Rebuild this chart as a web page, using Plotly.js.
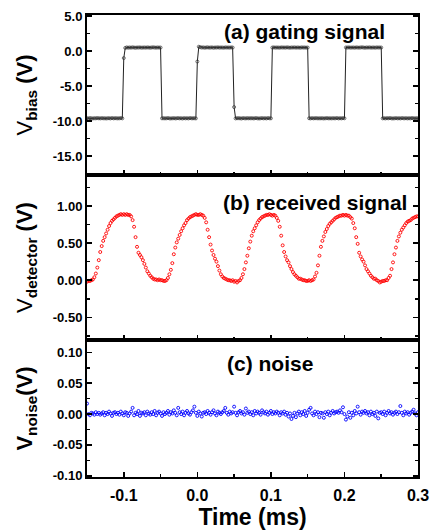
<!DOCTYPE html>
<html>
<head>
<meta charset="utf-8">
<script src="https://cdn.plot.ly/plotly-3.0.1.min.js"></script>
<style>
html,body{margin:0;padding:0;background:#fff;}
#chart{width:432px;height:531px;}
</style>
</head>
<body>
<div id="chart"></div>
<script>
// Sampling of the oscilloscope traces (ms)
const timeStart = -0.15;
const timeStep = 0.002;

// (a) gating signal, V_bias (V)
const gatingSignal = [
-9.60,-9.62,-9.58,-9.60,-9.63,-9.59,-9.61,-9.57,-9.60,-9.62,
-9.58,-9.61,-9.60,-9.63,-9.59,-9.60,-9.62,-9.58,-9.61,-9.60,
-9.59,-9.62,-9.60,-9.58,-9.61,-1.00,0.45,0.52,0.48,0.51,
0.49,0.53,0.50,0.47,0.51,0.50,0.52,0.48,0.50,0.51,
0.49,0.52,0.50,0.48,0.51,0.53,0.50,0.49,0.51,0.50,
0.50,-9.61,-9.59,-9.62,-9.60,-9.58,-9.61,-9.63,-9.60,-9.59,
-9.62,-9.60,-9.58,-9.61,-9.60,-9.63,-9.59,-9.61,-9.60,-9.62,
-9.58,-9.60,-9.61,-9.59,-9.62,-1.50,0.62,0.55,0.50,0.52,
0.48,0.51,0.53,0.49,0.50,0.52,0.47,0.51,0.50,0.53,
0.49,0.51,0.50,0.48,0.52,0.50,0.51,0.49,0.52,0.50,
-8.00,-9.62,-9.60,-9.58,-9.61,-9.63,-9.59,-9.60,-9.62,-9.58,
-9.61,-9.60,-9.59,-9.62,-9.60,-9.58,-9.61,-9.63,-9.60,-9.59,
-9.61,-9.60,-9.62,-9.58,-9.60,-9.61,0.50,0.52,0.49,0.51,
0.50,0.48,0.52,0.50,0.51,0.49,0.53,0.50,0.48,0.51,
0.50,0.52,0.49,0.51,0.50,0.48,0.52,0.50,0.51,0.49,
0.50,-9.60,-9.62,-9.59,-9.61,-9.60,-9.58,-9.62,-9.60,-9.61,
-9.59,-9.63,-9.60,-9.58,-9.61,-9.60,-9.62,-9.59,-9.61,-9.60,
-9.58,-9.62,-9.60,-9.61,-9.59,-9.60,0.51,0.50,0.52,0.49,
0.50,0.51,0.48,0.52,0.50,0.49,0.51,0.53,0.50,0.48,
0.51,0.50,0.52,0.49,0.50,0.51,0.48,0.52,0.50,0.51,
0.50,-9.61,-9.60,-9.62,-9.59,-9.60,-9.58,-9.61,-9.63,-9.60,
-9.59,-9.61,-9.60,-9.62,-9.58,-9.60,-9.61,-9.59,-9.62,-9.60,
-9.61,-9.58,-9.60,-9.62,-9.59,-9.61
];

// (b) received signal, V_detector (V)
const receivedSignal = [
-0.02,-0.01,-0.01,0.00,0.01,0.04,0.09,0.17,0.27,0.38,
0.46,0.53,0.58,0.63,0.68,0.73,0.77,0.80,0.82,0.84,
0.86,0.87,0.88,0.89,0.88,0.89,0.88,0.89,0.88,0.88,
0.86,0.81,0.72,0.58,0.45,0.37,0.34,0.31,0.27,0.22,
0.17,0.12,0.09,0.06,0.04,0.02,0.01,0.01,0.00,0.01,
0.00,0.00,-0.01,-0.01,0.00,0.03,0.08,0.14,0.23,0.35,
0.44,0.51,0.56,0.61,0.66,0.70,0.74,0.77,0.81,0.83,
0.85,0.86,0.87,0.88,0.89,0.88,0.88,0.89,0.88,0.87,
0.84,0.78,0.68,0.58,0.48,0.40,0.34,0.29,0.25,0.19,
0.13,0.08,0.05,0.03,0.02,0.01,0.00,0.00,-0.01,0.00,
-0.02,-0.01,-0.03,-0.01,0.00,0.03,0.08,0.15,0.24,0.33,
0.43,0.52,0.60,0.66,0.70,0.74,0.78,0.81,0.83,0.85,
0.86,0.87,0.88,0.88,0.89,0.88,0.87,0.88,0.87,0.84,
0.80,0.72,0.60,0.47,0.38,0.32,0.27,0.24,0.19,0.15,
0.11,0.08,0.06,0.04,0.02,0.02,0.01,0.00,0.00,-0.01,
-0.01,0.00,-0.01,0.00,0.01,0.05,0.10,0.20,0.33,0.45,
0.53,0.59,0.65,0.69,0.73,0.76,0.78,0.80,0.82,0.84,
0.85,0.86,0.87,0.87,0.88,0.87,0.88,0.87,0.87,0.85,
0.83,0.77,0.70,0.58,0.49,0.37,0.32,0.28,0.25,0.20,
0.15,0.12,0.09,0.06,0.04,0.02,0.02,0.00,-0.01,-0.03,
-0.02,-0.01,-0.01,0.00,0.00,0.03,0.06,0.15,0.24,0.35,
0.44,0.53,0.59,0.64,0.68,0.71,0.74,0.77,0.79,0.80,
0.81,0.83,0.84,0.85,0.86,0.86
];

// (c) noise, V_noise (V)
const noiseSignal = [
0.017,0.000,-0.002,0.002,0.001,-0.001,0.003,0.000,0.002,-0.001,
0.001,0.003,-0.002,0.002,0.000,0.004,0.001,-0.003,0.002,0.003,
0.000,0.002,-0.001,0.004,0.001,-0.002,0.003,0.002,-0.003,0.001,
0.004,0.010,-0.002,0.002,0.000,0.005,-0.003,0.002,0.001,0.003,
-0.002,0.004,0.001,-0.001,0.003,0.000,0.005,-0.002,0.002,0.004,
0.001,-0.003,0.003,0.000,0.002,0.005,-0.001,0.003,0.001,0.006,
0.002,-0.002,0.010,0.003,0.000,0.004,-0.002,0.002,0.005,0.001,
-0.001,0.003,0.006,0.012,0.002,-0.003,0.004,0.001,-0.004,0.002,
0.003,0.000,0.005,0.002,-0.001,0.003,0.006,0.001,-0.002,0.004,
0.002,0.000,0.003,0.005,0.010,0.002,-0.001,0.004,0.001,0.003,
0.012,0.002,-0.002,0.003,0.005,0.001,0.003,-0.001,0.009,0.002,
0.004,0.000,0.003,-0.002,0.005,0.001,0.004,0.002,-0.001,0.006,
0.003,0.001,0.004,-0.001,0.002,0.005,0.000,0.003,0.001,0.004,
0.002,-0.002,0.003,0.001,0.004,-0.001,0.002,-0.004,0.001,-0.008,
-0.003,0.002,-0.005,0.001,0.004,-0.002,0.003,0.000,0.005,-0.003,
0.002,0.007,0.010,0.001,-0.002,0.004,0.000,0.003,-0.005,0.002,
0.001,-0.006,0.003,0.000,0.004,-0.002,0.002,0.005,0.001,0.003,
0.004,0.002,0.006,0.003,0.011,0.000,-0.009,-0.004,0.003,-0.006,
0.002,-0.002,0.005,0.001,0.012,0.003,-0.001,0.004,0.002,0.005,
0.001,0.003,-0.002,0.004,0.000,0.002,-0.003,0.004,-0.007,0.002,
0.003,0.000,0.004,-0.002,0.002,0.005,0.001,0.003,-0.001,0.002,
0.004,0.000,0.003,0.013,0.002,-0.002,0.004,0.001,0.003,-0.001,
0.002,0.004,0.007,0.001,-0.002,0.003
];

// Tick values and labels
const timeTickVals = [-0.1, 0.0, 0.1, 0.2, 0.3];
const timeTickText = ['-0.1', '0.0', '0.1', '0.2', '0.3'];
const biasTickVals = [5, 0, -5, -10, -15];
const biasTickText = ['5.0', '0.0', '-5.0', '-10.0', '-15.0'];
const detTickVals = [1, 0.5, 0, -0.5];
const detTickText = ['1.00', '0.50', '0.00', '-0.50'];
const noiseTickVals = [0.1, 0.05, 0, -0.05, -0.1];
const noiseTickText = ['0.10', '0.05', '0.00', '-0.05', '-0.10'];

const FONT = "'Liberation Sans', Arial, Helvetica, sans-serif";

const traces = [
  {
    type: 'scatter', mode: 'lines+markers', name: 'gating signal',
    x0: timeStart, dx: timeStep, y: gatingSignal,
    xaxis: 'x', yaxis: 'y',
    line: {color: '#222222', width: 1},
    marker: {symbol: 'circle-open', size: 3, color: '#333333', line: {width: 0.7, color: '#333333'}}
  },
  {
    type: 'scatter', mode: 'markers', name: 'received signal',
    x0: timeStart, dx: timeStep, y: receivedSignal,
    xaxis: 'x2', yaxis: 'y2',
    marker: {symbol: 'circle-open', size: 3, color: '#ff0000', line: {width: 0.9, color: '#ff0000'}}
  },
  {
    type: 'scatter', mode: 'markers', name: 'noise',
    x0: timeStart, dx: timeStep, y: noiseSignal,
    xaxis: 'x3', yaxis: 'y3',
    marker: {symbol: 'circle-open', size: 3, color: '#0000ff', line: {width: 0.9, color: '#0000ff'}}
  }
];

function xAxis(anchor, labels) {
  return {
    anchor: anchor, domain: [0, 1], range: [-0.15, 0.3],
    tickmode: 'array', tickvals: timeTickVals, ticktext: timeTickText,
    showticklabels: labels,
    ticks: 'inside', ticklen: 5, tickwidth: 1.5, tickcolor: '#000',
    minor: {ticks: 'inside', tickmode: 'linear', tick0: -0.15, dtick: 0.1, ticklen: 3, tickwidth: 1.5, tickcolor: '#000'},
    showline: true, linecolor: '#000', linewidth: 2, mirror: true,
    showgrid: false, zeroline: false,
    ticklabelstandoff: 3,
    tickfont: {family: FONT, size: 16, color: '#000', weight: 'bold'}
  };
}

function yAxis(anchor, domain, range, vals, text, minorStart, minorStep, title) {
  return {
    anchor: anchor, domain: domain, range: range,
    tickmode: 'array', tickvals: vals, ticktext: text,
    ticks: 'inside', ticklen: 5, tickwidth: 1.5, tickcolor: '#000',
    minor: {ticks: 'inside', tickmode: 'linear', tick0: minorStart, dtick: minorStep, ticklen: 3, tickwidth: 1.5, tickcolor: '#000'},
    showline: true, linecolor: '#000', linewidth: 2, mirror: 'ticks',
    showgrid: false, zeroline: false,
    tickfont: {family: FONT, size: 13, color: '#000', weight: 'bold'},
    title: {text: title, standoff: 14, font: {family: FONT, size: 22, color: '#000', weight: 'normal'}}
  };
}

const layout = {
  width: 432, height: 531,
  margin: {l: 87, r: 14, t: 15, b: 54, pad: 0},
  paper_bgcolor: '#ffffff', plot_bgcolor: '#ffffff',
  showlegend: false,
  font: {family: FONT, color: '#000'},
  xaxis: xAxis('y', false),
  xaxis2: xAxis('y2', false),
  xaxis3: Object.assign(xAxis('y3', true), {
    title: {text: '<b>Time (ms)</b>', standoff: 0, font: {family: FONT, size: 23, color: '#000'}}
  }),
  yaxis: yAxis('x', [0.6537, 1], [-17.7, 5.15], biasTickVals, biasTickText, 2.5, 5,
    'V<sub><b>bias</b></sub> <b>(V)</b>'),
  yaxis2: yAxis('x2', [0.2965, 0.6537], [-0.806, 1.418], detTickVals, detTickText, 0.25, 0.5,
    '\u00a0\u00a0\u00a0\u00a0\u00a0\u00a0\u00a0\u00a0\u00a0\u00a0\u00a0\u00a0\u00a0\u00a0\u00a0\u00a0V<sub><b>detector</b></sub> <b>(V)</b>'),
  yaxis3: yAxis('x3', [0, 0.2965], [-0.102, 0.12], noiseTickVals, noiseTickText, 0.025, 0.05,
    '\u00a0\u00a0<b>V<sub>noise</sub>(V)</b>'),
  annotations: [
    {text: '<b>(a) gating signal</b>', xref: 'x domain', yref: 'y domain', x: 0.906, y: 0.896,
     xanchor: 'right', yanchor: 'middle', showarrow: false, font: {family: FONT, size: 21, color: '#000'}},
    {text: '<b>(b) received signal</b>', xref: 'x2 domain', yref: 'y2 domain', x: 0.973, y: 0.833,
     xanchor: 'right', yanchor: 'middle', showarrow: false, font: {family: FONT, size: 21, color: '#000'}},
    {text: '<b>(c) noise</b>', xref: 'x3 domain', yref: 'y3 domain', x: 0.553, y: 0.832,
     xanchor: 'center', yanchor: 'middle', showarrow: false, font: {family: FONT, size: 21, color: '#000'}}
  ]
};

Plotly.newPlot('chart', traces, layout, {displayModeBar: false, staticPlot: true});
</script>
</body>
</html>
